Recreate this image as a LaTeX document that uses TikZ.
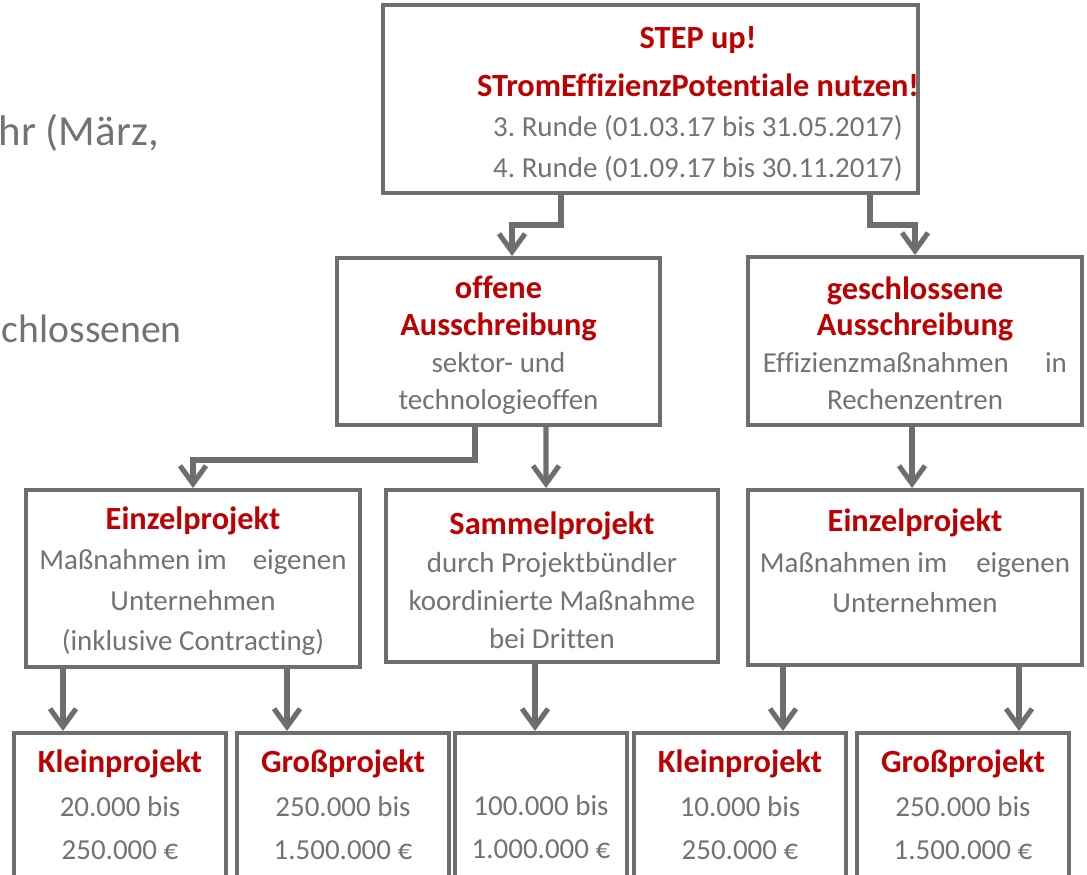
\documentclass[tikz,border=0pt]{standalone}
\usepackage{fontspec}
\setmainfont{Carlito}[Ligatures=CommonOff]
\usepackage{xcolor}
\usetikzlibrary{positioning}
\usetikzlibrary{arrows.meta}
\usetikzlibrary{calc}
\definecolor{stepred}{HTML}{C00000}
\definecolor{ink}{HTML}{737373}
\definecolor{rule}{HTML}{6E6E6E}
\frenchspacing
\tikzset{
  % A frame of the funding tree
  kasten/.style={
    draw=rule, line width=2.8pt, fill=white, rectangle, inner sep=0pt},
  % The text set inside a frame, #1 = line distance
  inhalt/.style={
    text=ink, align=center, inner sep=0pt,
    font=\fontsize{20.6}{#1}\selectfont},
  inhalt/.default=28.4,
  % Cut-off slide text on the left, #1 = size
  rand/.style={
    text=ink, inner sep=0pt, anchor=base east,
    font=\fontsize{#1}{36}\selectfont},
  % Connectors
  pfeil/.style={
    draw=rule, line width=3.6pt,
    -{Straight Barb[length=4.5mm, width=6.5mm]}},
}
\newcommand{\titel}[1]{{\color{stepred}\bfseries\fontsize{23}{28}\selectfont #1}}
\newcommand{\rahmen}[5]{%
  \node[kasten, minimum width={(#4-#2)*0.025cm},
        minimum height={(#5-#3)*0.025cm}]
        (#1) at ({(#2+#4)/2},{(#3+#5)/2}) {};}

\begin{document}
\begin{tikzpicture}[x=0.025cm, y=-0.025cm]
  \useasboundingbox (0,0) rectangle (1087,875);
  \clip (0,0) rectangle (1087,875);

  \node[rand=30.5] (rand1) at (159,145) {hr (März,};
  \node[rand=28.2] (rand2) at (182,342) {chlossenen};

  \rahmen{step}{383}{5}{918}{193}
  \rahmen{offen}{337}{258}{660}{425}
  \rahmen{geschl}{748}{257}{1082}{425}
  \rahmen{einzA}{26}{490}{360}{667}
  \rahmen{sammel}{386}{490}{718}{662}
  \rahmen{einzB}{748}{490}{1082}{665}
  \rahmen{kleinA}{14}{733}{226}{900}
  \rahmen{grossA}{237}{733}{449}{900}
  \rahmen{dritt}{455}{733}{627}{900}
  \rahmen{kleinB}{634}{733}{846}{900}
  \rahmen{grossB}{857}{733}{1069}{900}

  \node[inhalt=28.8] (stepT) at (698,103.5)
    {\titel{STEP up!}\\[5.3pt]
     \titel{STromEffizienzPotentiale nutzen!}\\
     3. Runde (01.03.17 bis 31.05.2017)\\
     4. Runde (01.09.17 bis 30.11.2017)};
  \node[inhalt=26.3] (offenT) at (498.5,345)
    {\titel{offene}\\ \titel{Ausschreibung}\\ sektor- und\\ technologieoffen};
  \node[inhalt=26] (geschlT) at (915,343)
    {\titel{geschlossene}\\ \titel{Ausschreibung}\\
     \hbox to 7.6cm{Effizienzmaßnahmen\hfill in}\\ Rechenzentren};
  \node[inhalt=28.8] (einzAT) at (193,581)
    {\titel{Einzelprojekt}\\
     \hbox to 7.675cm{Maßnahmen im\hfill eigenen}\\
     Unternehmen\\ (inklusive Contracting)};
  \node[inhalt=27] (sammelT) at (552,580)
    {\titel{Sammelprojekt}\\ durch Projektbündler\\
     koordinierte Maßnahme\\ bei Dritten};
  \node[inhalt=28.8] (einzBT) at (915,561)
    {\titel{Einzelprojekt}\\
     \hbox to 7.75cm{Maßnahmen im\hfill eigenen}\\ Unternehmen};
  \node[inhalt=31] (kleinAT) at (120,805)
    {\titel{Kleinprojekt}\\ 20.000 bis\\ 250.000 €};
  \node[inhalt=31] (grossAT) at (343,805)
    {\titel{Großprojekt}\\ 250.000 bis\\ 1.500.000 €};
  \node[inhalt=31] (drittT) at (541,827)
    {100.000 bis\\ 1.000.000 €};
  \node[inhalt=31] (kleinBT) at (740,805)
    {\titel{Kleinprojekt}\\ 10.000 bis\\ 250.000 €};
  \node[inhalt=31] (grossBT) at (963,805)
    {\titel{Großprojekt}\\ 250.000 bis\\ 1.500.000 €};

  \draw[pfeil] ($(step.south)+(-89.5,0)$) -- ++(0,30) -| ($(offen.north)+(13.5,0)$);
  \draw[pfeil] ($(step.south)+(219.5,0)$) -- ++(0,30) -| (geschl.north);
  \draw[pfeil] ($(offen.south)+(-23.5,0)$) -- ++(0,33) -| (einzA.north);
  \draw[pfeil] ($(offen.south)+(47.5,0)$) -- ($(sammel.north)+(-6,0)$);
  \draw[pfeil] ($(geschl.south)+(-3,0)$) -- ($(einzB.north)+(-3,0)$);
  \draw[pfeil] ($(einzA.south)+(-130,0)$) -- ($(kleinA.north)+(-57,0)$);
  \draw[pfeil] ($(einzA.south)+(94,0)$) -- ($(grossA.north)+(-56,0)$);
  \draw[pfeil] ($(sammel.south)+(-17,0)$) -- ($(dritt.north)+(-6,0)$);
  \draw[pfeil] ($(einzB.south)+(-132,0)$) -- ($(kleinB.north)+(43,0)$);
  \draw[pfeil] ($(einzB.south)+(104,0)$) -- ($(grossB.north)+(56,0)$);

\end{tikzpicture}
\end{document}
